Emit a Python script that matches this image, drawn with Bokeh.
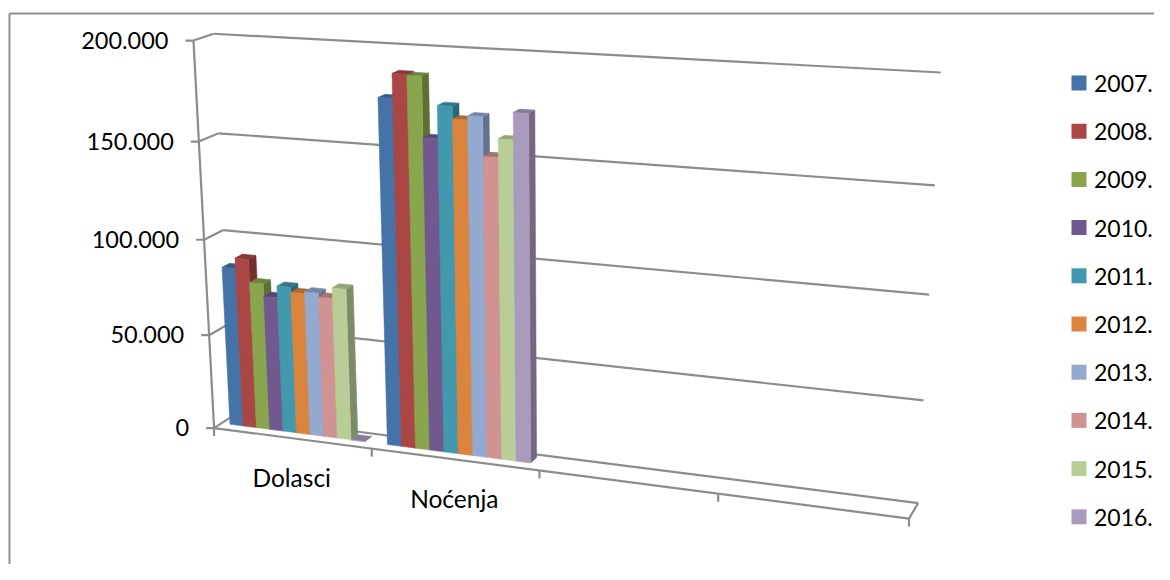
import numpy as np
from bokeh.plotting import figure
from bokeh.models import Range1d
from bokeh.embed import file_html
from bokeh.resources import INLINE
from bokeh.core.properties import value

categories = ["Dolasci", "Noćenja", "", ""]
years = ["2007.", "2008.", "2009.", "2010.", "2011.", "2012.", "2013.", "2014.", "2015.", "2016."]
dolasci = [84000, 89500, 77500, 71000, 77000, 74500, 75500, 73500, 79000, 0]
nocenja = [176000, 188000, 187500, 158000, 174000, 168000, 170000, 151000, 160000, 173000]
y_ticks = [0, 50000, 100000, 150000, 200000]
y_labels = ["0", "50.000", "100.000", "150.000", "200.000"]
colors = ["#4573A7", "#AA4643", "#89A54E", "#71588F", "#4198AF",
          "#DB843D", "#93A9CF", "#D19392", "#B9CD96", "#A99BBD"]
series_values = [dolasci, nocenja]
y_max = 200000

# Perspective camera of the 3-D box, fitted to the box corners (category, value/max, depth)
anchors = [((0, 0, 0), (214, 427)), ((1, 0, 0), (371, 448)), ((2, 0, 0), (539, 470)),
           ((3, 0, 0), (717, 494)), ((4, 0, 0), (909, 518)), ((0, 1, 0), (193, 40)),
           ((0, 0, 1), (232, 416)), ((4, 0, 1), (918, 502)), ((0, 1, 1), (213, 33)),
           ((4, 1, 1), (941, 72)), ((4, .75, 1), (933, 185)), ((4, .5, 1), (929, 295)),
           ((4, .25, 1), (923, 399))]
A, b = [], []
for (u, v, w), (x, y) in anchors:
    A.append([u, v, w, 1, 0, 0, 0, 0, -x*u, -x*v, -x*w]); b.append(x)
    A.append([0, 0, 0, 0, u, v, w, 1, -y*u, -y*v, -y*w]); b.append(y)
h = np.linalg.lstsq(np.array(A, float), np.array(b, float), rcond=None)[0]
H = np.append(h, 1.0).reshape(3, 4)


def proj(u, val, w):
    q = H @ np.array([u, val / y_max, w, 1.0])
    return q[0] / q[2], q[1] / q[2]


def shade(c, f):
    r, g, bl = int(c[1:3], 16), int(c[3:5], 16), int(c[5:7], 16)
    return "#%02X%02X%02X" % (int(r*f), int(g*f), int(bl*f))


p = figure(width=1154, height=564, x_range=Range1d(0, 1154), y_range=Range1d(564, 0),
           output_backend="svg", toolbar_location=None, min_border=0,
           background_fill_color="white", border_fill_color="white")
p.axis.visible = False
p.grid.visible = False
p.outline_line_color = None

GRID = "#8C8C8C"
# chart frame
p.line([9, 9], [564, 13], line_color="#8F8F8F", line_width=2)
p.line([9, 1154], [13, 13], line_color="#8F8F8F", line_width=2)


def seg(a, b_):
    p1, p2 = proj(*a), proj(*b_)
    p.line([p1[0], p2[0]], [p1[1], p2[1]], line_color=GRID, line_width=2.2)


n_cat = len(categories)
for t in y_ticks:
    seg((0, t, 0), (0, t, 1))
    seg((0, t, 1), (n_cat, t, 1))
    x, y = proj(0, t, 0)
    p.line([x - 8, x], [y, y], line_color=GRID, line_width=2.2)
seg((0, 0, 0), (0, y_max, 0))
seg((0, 0, 0), (n_cat, 0, 0))
seg((n_cat, 0, 0), (n_cat, 0, 1))
for i in range(n_cat + 1):
    x, y = proj(i, 0, 0)
    p.line([x, x], [y, y + 8], line_color=GRID, line_width=2.2)

# y tick labels
lx, ly = [], []
for t in y_ticks:
    x, y = proj(0, t, 0)
    lx.append(x - 25); ly.append(y - 0.5)
p.text(lx, ly, text=y_labels, text_font=value("Lato"), text_font_size="23.5px",
       text_align="right", text_baseline="middle", text_color="#000000")

# category labels
for i, c in enumerate(categories):
    if c:
        x, y = proj(i + 0.5, 0, 0)
        p.text([x], [y + 39], text=[c], text_font=value("Lato"), text_font_size="24.5px",
               text_align="center", text_baseline="middle", text_color="#000000")

# bars
PAD_L, PAD_R, W0, W1 = 0.055, 0.085, 0.40, 0.80
n = len(years)
bw = (1 - PAD_L - PAD_R) / n
for ci, vals in enumerate(series_values):
    for si, val in enumerate(vals):
        c = colors[si]
        u0 = ci + PAD_L + si * bw
        u1 = u0 + bw
        corners = {
            "side": [(u1, 0, W0), (u1, 0, W1), (u1, val, W1), (u1, val, W0)],
            "top": [(u0, val, W0), (u1, val, W0), (u1, val, W1), (u0, val, W1)],
            "front": [(u0, 0, W0), (u1, 0, W0), (u1, val, W0), (u0, val, W0)],
        }
        for face, fac in (("side", 0.68), ("top", 0.8), ("front", 1.0)):
            pts = [proj(*q) for q in corners[face]]
            p.patch([a for a, _ in pts], [b_ for _, b_ in pts], fill_color=shade(c, fac),
                    line_color=shade(c, fac), line_width=0.5)

# legend
LEG_TOP, LEG_STEP = 82.5, 48.2
for i, (yr, c) in enumerate(zip(years, colors)):
    yc = LEG_TOP + i * LEG_STEP
    p.quad(left=[1071], right=[1086], top=[yc - 7.5], bottom=[yc + 7.5], fill_color=c, line_color=None)
    p.text([1093.5], [yc + 0.5], text=[yr], text_font=value("Lato"), text_font_size="23px",
           text_align="left", text_baseline="middle", text_color="#000000")

open("out.html", "w").write(file_html(p, INLINE))
